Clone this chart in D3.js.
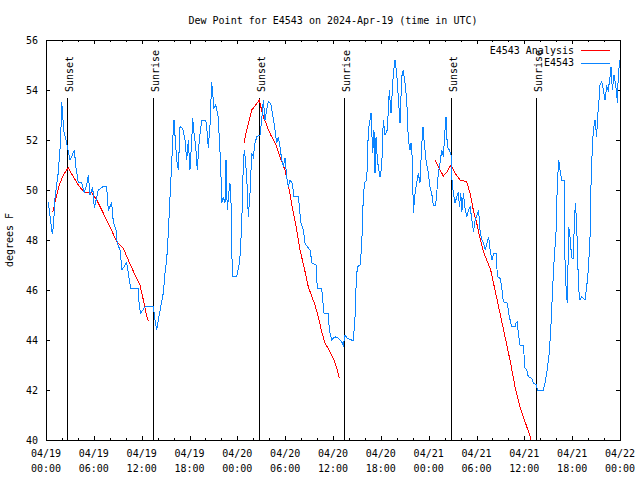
<!DOCTYPE html>
<html>
<head>
<meta charset="utf-8">
<script src="https://cdn.jsdelivr.net/npm/d3@7"></script>
<style>
  html, body { margin: 0; padding: 0; background: #fff; }
  svg { display: block; }
  text { font-family: "DejaVu Sans Mono", monospace; font-size: 10px; fill: #000; }
</style>
</head>
<body>
<svg id="chart" width="640" height="480"></svg>
<script>
// ---------- data ----------
const chartTitle = "Dew Point for E4543 on 2024-Apr-19 (time in UTC)";
const yLabel = "degrees F";
const startTime = "2024-04-19T00:00:00Z";
const endTime = "2024-04-22T00:00:00Z";
const yTickValues = [40, 42, 44, 46, 48, 50, 52, 54, 56];
const seriesNames = ["E4543 Analysis", "E4543"];
const seriesColors = ["#ff0000", "#0a84ff"];

// observed dew point: [hours since start, deg F]
const observedReadings = [
[0.29,49.5],[0.56,48.8],[0.79,48.24],[0.94,48.6],[1.13,49.67],[1.54,50.7],[1.84,52.0],[1.97,53.53],[2.09,53.0],[2.26,52.3],[2.51,52.0],[2.67,51.73],[3.01,51.2],[3.22,51.33],[3.55,51.6],[3.76,50.9],[4.05,50.3],[4.48,50.3],[4.77,49.9],[5.11,50.2],[5.31,50.6],[5.52,49.8],[5.86,50.1],[6.06,49.27],[6.56,50.0],[7.28,50.16],[7.61,50.13],[7.81,49.2],[8.24,49.47],[8.44,48.73],[8.78,48.4],[8.94,47.87],[9.28,47.6],[9.53,46.8],[10.12,47.1],[10.45,46.4],[10.62,46.07],[11.58,46.07],[11.70,45.33],[11.88,45.07],[12.42,45.33],[13.46,45.33],[13.67,44.8],[13.89,44.4],[14.09,44.8],[14.39,45.33],[14.71,45.87],[14.93,46.67],[15.14,47.2],[15.34,48.27],[15.55,49.67],[15.77,51.07],[15.89,52.0],[16.06,52.8],[16.22,52.0],[16.39,51.2],[16.6,50.8],[16.81,52.53],[17.15,52.47],[17.44,52.0],[17.65,51.2],[17.85,52.0],[18.06,50.8],[18.28,52.0],[18.40,52.87],[18.57,52.27],[18.78,51.73],[18.98,50.8],[19.23,52.0],[19.53,52.8],[20.03,52.8],[20.16,52.5],[20.36,51.7],[20.57,52.6],[20.78,54.33],[20.91,53.87],[21.07,53.27],[21.29,53.4],[21.41,53.2],[21.61,52.93],[21.74,52.0],[21.91,51.07],[22.04,49.47],[22.24,49.73],[22.45,49.47],[22.58,51.2],[22.74,49.2],[22.92,49.87],[23.08,50.27],[23.21,49.47],[23.29,47.6],[23.42,46.53],[23.92,46.53],[24.25,47.07],[24.40,47.6],[24.59,49.13],[24.76,51.2],[24.90,51.6],[25.18,50.53],[25.38,48.93],[25.59,49.87],[25.81,51.47],[26.0,51.33],[26.22,51.87],[26.43,52.13],[26.84,52.2],[27.06,52.8],[27.26,53.6],[27.47,52.8],[27.68,53.2],[27.89,53.53],[28.19,53.47],[28.44,53.0],[28.73,52.4],[28.94,51.87],[29.15,52.13],[29.35,51.73],[29.57,51.2],[29.77,50.93],[29.98,51.27],[30.19,50.53],[30.39,50.13],[30.61,50.4],[30.9,50.27],[31.11,49.73],[31.65,49.73],[31.78,49.33],[31.95,48.73],[32.28,48.4],[32.49,47.87],[32.78,47.73],[33.12,47.6],[33.37,47.07],[33.87,47.0],[34.03,46.07],[34.58,46.07],[34.87,45.07],[35.41,45.07],[35.54,44.4],[35.84,44.0],[36.25,44.13],[36.67,44.07],[37.09,43.93],[37.29,43.8],[37.51,44.2],[37.80,44.07],[38.55,43.97],[38.76,44.93],[38.89,46.13],[39.05,46.93],[39.39,47.0],[39.60,47.73],[39.73,49.2],[39.93,50.27],[40.23,50.4],[40.31,51.07],[40.43,52.4],[40.64,52.8],[40.77,53.07],[40.98,51.47],[41.14,52.4],[41.27,50.67],[41.40,52.13],[41.56,51.2],[41.69,50.93],[41.90,50.53],[42.11,50.93],[42.31,52.8],[42.52,52.2],[42.81,52.4],[43.06,54.0],[43.28,53.07],[43.57,54.67],[43.78,55.2],[43.99,54.67],[44.19,53.73],[44.41,52.67],[44.62,54.53],[44.82,54.8],[45.03,54.27],[45.25,53.6],[45.45,52.0],[45.66,51.6],[45.79,51.87],[45.95,51.27],[46.08,49.07],[46.29,49.87],[46.50,50.27],[46.70,50.67],[46.91,50.27],[47.12,51.73],[47.29,52.53],[47.45,51.87],[47.67,51.2],[47.96,50.67],[48.17,50.13],[48.38,49.87],[48.58,49.4],[48.88,49.4],[49.01,49.87],[49.21,50.67],[49.42,51.07],[49.64,51.6],[49.84,51.33],[50.05,52.4],[50.18,52.93],[50.34,51.73],[50.59,51.6],[50.80,51.4],[50.89,50.53],[51.10,49.87],[51.31,49.47],[51.52,49.73],[51.73,49.93],[51.86,49.33],[52.03,49.87],[52.16,49.13],[52.36,49.87],[52.58,49.2],[52.79,48.93],[52.99,49.2],[53.2,49.33],[53.42,48.8],[53.63,48.33],[53.84,48.8],[54.05,49.0],[54.26,49.2],[54.47,48.27],[54.68,48.0],[54.89,47.87],[55.1,47.6],[55.31,47.87],[55.52,48.13],[55.73,47.53],[55.94,47.2],[56.15,47.47],[56.49,47.47],[56.61,46.53],[56.95,46.47],[57.16,46.13],[57.37,45.53],[57.87,45.47],[58.12,44.93],[58.42,44.53],[58.83,44.53],[58.96,44.67],[59.12,44.73],[59.24,44.27],[59.46,43.8],[59.87,43.8],[60.09,42.87],[60.30,42.8],[60.50,42.53],[60.93,42.47],[61.13,42.27],[61.55,42.2],[61.63,42.0],[62.38,42.0],[62.59,42.27],[62.80,42.67],[63.13,43.47],[63.35,44.67],[63.56,46.13],[63.76,47.33],[63.97,48.27],[64.14,50.27],[64.31,51.2],[64.48,50.8],[64.69,50.4],[64.98,50.4],[65.10,47.2],[65.23,46.13],[65.39,45.47],[65.57,48.53],[65.73,48.13],[65.86,47.6],[65.98,47.27],[66.15,47.27],[66.27,48.67],[66.40,49.47],[66.57,48.67],[66.65,47.6],[66.82,46.0],[66.98,45.6],[67.2,45.73],[67.61,45.6],[67.82,46.13],[68.03,46.8],[68.24,48.13],[68.37,50.27],[68.53,51.73],[68.66,52.4],[68.87,52.8],[69.08,52.13],[69.16,52.8],[69.37,53.6],[69.49,54.2],[69.71,54.33],[69.91,54.0],[70.12,53.6],[70.33,54.13],[70.53,54.0],[70.75,54.53],[70.87,54.93],[71.04,54.0],[71.25,54.6],[71.41,54.27],[71.59,53.87],[71.67,53.47],[71.79,54.67],[72.0,55.2]
];

// analysis dew point: [hours since start, deg F]; null breaks the line
const analysisReadings = [
[0.84,49.1],[1.13,49.5],[1.67,50.2],[2.17,50.6],[2.80,50.89],[3.42,50.53],[4.05,50.2],[4.80,49.9],[5.73,49.9],[6.36,49.6],[7.19,49.07],[8.03,48.53],[8.87,47.93],[9.70,47.67],[10.32,47.2],[11.16,46.6],[11.79,46.2],[12.21,45.6],[12.54,45.07],[12.83,44.76],
[18,null],
[24.84,51.87],[25.09,52.27],[25.38,52.67],[25.80,53.2],[26.22,53.36],[26.76,53.6],[26.97,53.3],[27.26,52.93],[27.68,52.6],[27.89,52.4],[28.31,52.13],[28.94,51.73],[29.57,51.13],[29.98,50.8],[30.52,50.0],[30.95,49.2],[31.45,48.4],[31.86,47.6],[32.36,46.93],[32.90,46.13],[33.74,45.4],[34.16,44.93],[34.58,44.33],[35.0,43.87],[35.63,43.53],[36.04,43.27],[36.47,42.87],[36.79,42.49],
[42,null],
[48.80,51.2],[49.21,50.93],[49.84,50.56],[50.30,50.73],[50.80,51.0],[51.31,50.67],[51.93,50.4],[52.77,50.33],[53.19,49.87],[53.60,49.2],[54.03,48.67],[54.44,48.07],[54.86,47.53],[55.28,47.2],[55.78,46.8],[56.32,46.0],[56.95,45.07],[57.58,44.13],[58.20,43.2],[58.83,42.13],[59.46,41.33],[60.09,40.73],[60.80,40.07],[61.09,39.6]
];

// sun events: hours since start
const sunEventHours = [2.67, 13.47, 26.76, 37.43, 50.85, 61.51];
const sunEventLabels = ["Sunset", "Sunrise", "Sunset", "Sunrise", "Sunset", "Sunrise"];

// ---------- drawing ----------
const svg = d3.select("#chart");
const mLeft = 46, mRight = 620, mTop = 40, mBottom = 440;
const t0 = new Date(startTime).getTime();
const toDate = h => new Date(t0 + h * 3600e3);

const x = d3.scaleUtc().domain([new Date(startTime), new Date(endTime)]).range([mLeft, mRight]);
const y = d3.scaleLinear().domain([40, 56]).range([mBottom, mTop]);

svg.append("defs").append("clipPath").attr("id", "plotclip")
  .append("rect").attr("x", mLeft).attr("y", mTop).attr("width", mRight - mLeft).attr("height", mBottom - mTop);

const endPlus = new Date(new Date(endTime).getTime() + 1);
const majorTicks = d3.utcHour.every(6).range(new Date(startTime), endPlus);
const minorTicks = d3.utcHour.every(2).range(new Date(startTime), endPlus);

function styleAxis(g) {
  g.select(".domain").remove();
  g.selectAll(".tick line").attr("stroke", "#000").attr("shape-rendering", "crispEdges");
  g.attr("font-family", null).attr("font-size", null);
}

// bottom / top ticks (inward)
svg.append("g").attr("transform", `translate(0,${mBottom})`)
  .call(d3.axisBottom(x).tickValues(minorTicks).tickSize(-2).tickFormat(""))
  .call(styleAxis);
svg.append("g").attr("transform", `translate(0,${mBottom})`)
  .call(d3.axisBottom(x).tickValues(majorTicks).tickSize(-4).tickFormat(""))
  .call(styleAxis);
svg.append("g").attr("transform", `translate(0,${mTop})`)
  .call(d3.axisTop(x).tickValues(minorTicks).tickSize(-2).tickFormat(""))
  .call(styleAxis);
svg.append("g").attr("transform", `translate(0,${mTop})`)
  .call(d3.axisTop(x).tickValues(majorTicks).tickSize(-4).tickFormat(""))
  .call(styleAxis);

// left / right ticks
svg.append("g").attr("transform", `translate(${mLeft},0)`)
  .call(d3.axisLeft(y).tickValues(yTickValues).tickSize(-4).tickPadding(8).tickFormat(d3.format("d")))
  .call(styleAxis);
svg.append("g").attr("transform", `translate(${mRight},0)`)
  .call(d3.axisRight(y).tickValues(yTickValues).tickSize(-4).tickFormat(""))
  .call(styleAxis);

// x tick labels (two lines)
const fmtDate = d3.utcFormat("%m/%d"), fmtTime = d3.utcFormat("%H:%M");
const xl = svg.append("g");
majorTicks.forEach(d => {
  const t = xl.append("text").attr("text-anchor", "middle").attr("x", x(d));
  t.append("tspan").attr("x", x(d)).attr("y", 457).text(fmtDate(d));
  t.append("tspan").attr("x", x(d)).attr("y", 472).text(fmtTime(d));
});

// frame
svg.append("rect").attr("x", mLeft + 0.5).attr("y", mTop + 0.5).attr("width", mRight - mLeft).attr("height", mBottom - mTop)
  .attr("fill", "none").attr("stroke", "#000").attr("shape-rendering", "crispEdges");

// sun event lines
const plot = svg.append("g").attr("clip-path", "url(#plotclip)");
sunEventHours.forEach((h, i) => {
  const xx = Math.round(x(toDate(h))) + 0.5;
  plot.append("line").attr("x1", xx).attr("x2", xx).attr("y1", 98).attr("y2", mBottom)
    .attr("stroke", "#000").attr("stroke-width", 1).attr("shape-rendering", "crispEdges");
  svg.append("text").attr("transform", `translate(${xx + 5},92) rotate(-90)`)
    .attr("text-anchor", "start").text(sunEventLabels[i]);
});

// series lines
const line = d3.line()
  .defined(d => d[1] !== null)
  .x(d => x(toDate(d[0])))
  .y(d => y(d[1]));

plot.append("path").datum(analysisReadings)
  .attr("fill", "none").attr("stroke", seriesColors[0]).attr("stroke-width", 1)
  .attr("shape-rendering", "crispEdges")
  .attr("d", line);
plot.append("path").datum(observedReadings)
  .attr("fill", "none").attr("stroke", seriesColors[1]).attr("stroke-width", 1)
  .attr("shape-rendering", "crispEdges")
  .attr("d", line);

// title and y label
svg.append("text").attr("x", (mLeft + mRight) / 2).attr("y", 24).attr("text-anchor", "middle").text(chartTitle);
svg.append("text").attr("transform", `translate(13,${(mTop + mBottom) / 2}) rotate(-90)`)
  .attr("text-anchor", "middle").text(yLabel);

// legend
const legend = svg.append("g");
seriesNames.forEach((name, i) => {
  const ly = 50 + i * 12.5;
  legend.append("text").attr("x", 574).attr("y", ly).attr("dy", "0.35em").attr("text-anchor", "end").text(name);
  legend.append("line").attr("x1", 581).attr("x2", 610).attr("y1", Math.round(ly) + 0.5).attr("y2", Math.round(ly) + 0.5)
    .attr("stroke", seriesColors[i]).attr("stroke-width", 1).attr("shape-rendering", "crispEdges");
});
</script>
</body>
</html>
